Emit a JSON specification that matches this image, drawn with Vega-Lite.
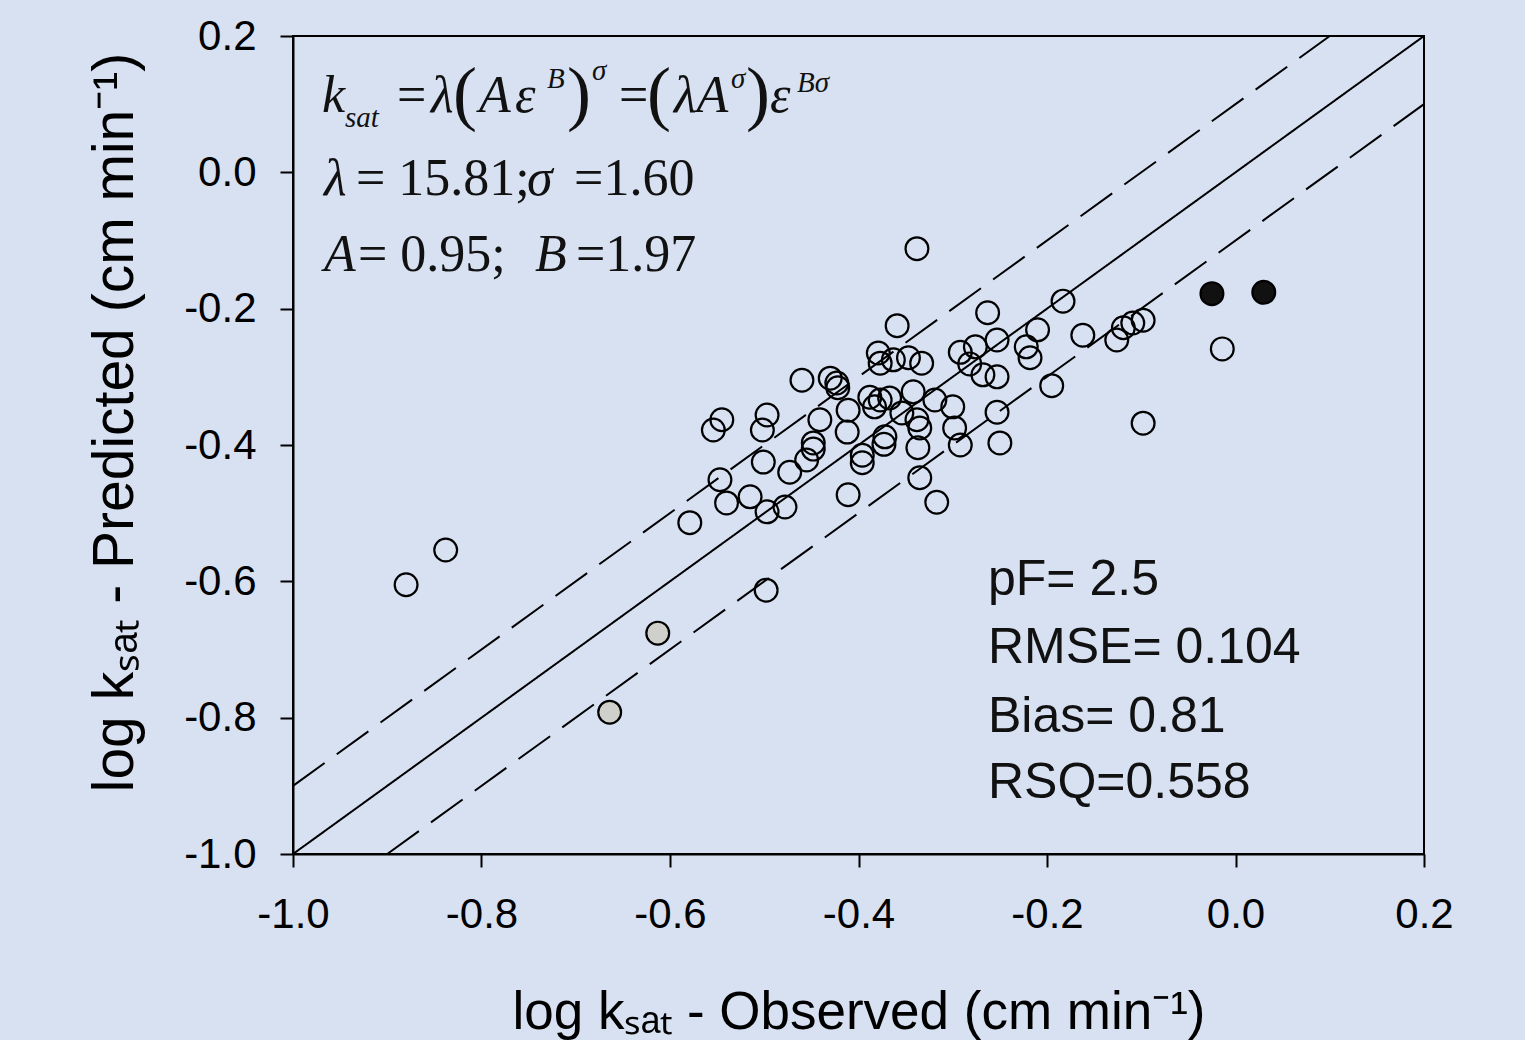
{
  "$schema": "https://vega.github.io/schema/vega-lite/v6.json",
  "width": 1131,
  "height": 818,
  "autosize": {"type": "none"},
  "padding": {"left": 293, "top": 36, "right": 101, "bottom": 186},
  "background": "#d7e1f2",
  "config": {
    "view": {"stroke": "black", "strokeWidth": 2},
    "axis": {
      "grid": false,
      "domainColor": "black",
      "domainWidth": 2,
      "tickColor": "black",
      "tickWidth": 2,
      "tickSize": 13,
      "labelFont": "Liberation Sans",
      "labelFontSize": 42,
      "labelColor": "black",
      "labelFlush": false,
      "labelOverlap": false,
      "labelBound": false,
      "titleFont": "Liberation Sans",
      "titleFontWeight": "normal",
      "titleColor": "black"
    }
  },
  "datasets": {
    "lines": [
      {"line": "solid", "x": -1, "y": -1},
      {"line": "solid", "x": 0.2, "y": 0.2},
      {"line": "upper", "x": -1, "y": -0.9},
      {"line": "upper", "x": 0.1, "y": 0.2},
      {"line": "lower", "x": -0.9, "y": -1},
      {"line": "lower", "x": 0.2, "y": 0.1}
    ],
    "points": [
      {"x": -0.338, "y": -0.112, "type": "open"},
      {"x": -0.183, "y": -0.189, "type": "open"},
      {"x": -0.263, "y": -0.206, "type": "open"},
      {"x": -0.210, "y": -0.231, "type": "open"},
      {"x": -0.253, "y": -0.246, "type": "open"},
      {"x": -0.222, "y": -0.256, "type": "open"},
      {"x": -0.218, "y": -0.272, "type": "open"},
      {"x": -0.162, "y": -0.239, "type": "open"},
      {"x": -0.126, "y": -0.246, "type": "open"},
      {"x": -0.119, "y": -0.228, "type": "open"},
      {"x": -0.109, "y": -0.221, "type": "open"},
      {"x": -0.098, "y": -0.217, "type": "open"},
      {"x": -0.014, "y": -0.259, "type": "open"},
      {"x": -0.098, "y": -0.368, "type": "open"},
      {"x": -0.195, "y": -0.313, "type": "open"},
      {"x": -0.359, "y": -0.225, "type": "open"},
      {"x": -0.379, "y": -0.265, "type": "open"},
      {"x": -0.377, "y": -0.280, "type": "open"},
      {"x": -0.363, "y": -0.275, "type": "open"},
      {"x": -0.347, "y": -0.272, "type": "open"},
      {"x": -0.333, "y": -0.280, "type": "open"},
      {"x": -0.292, "y": -0.264, "type": "open"},
      {"x": -0.276, "y": -0.256, "type": "open"},
      {"x": -0.282, "y": -0.281, "type": "open"},
      {"x": -0.268, "y": -0.297, "type": "open"},
      {"x": -0.253, "y": -0.300, "type": "open"},
      {"x": -0.253, "y": -0.352, "type": "open"},
      {"x": -0.250, "y": -0.397, "type": "open"},
      {"x": -0.300, "y": -0.344, "type": "open"},
      {"x": -0.298, "y": -0.375, "type": "open"},
      {"x": -0.292, "y": -0.400, "type": "open"},
      {"x": -0.460, "y": -0.305, "type": "open"},
      {"x": -0.430, "y": -0.302, "type": "open"},
      {"x": -0.423, "y": -0.309, "type": "open"},
      {"x": -0.422, "y": -0.316, "type": "open"},
      {"x": -0.411, "y": -0.349, "type": "open"},
      {"x": -0.388, "y": -0.330, "type": "open"},
      {"x": -0.377, "y": -0.334, "type": "open"},
      {"x": -0.367, "y": -0.331, "type": "open"},
      {"x": -0.383, "y": -0.344, "type": "open"},
      {"x": -0.342, "y": -0.322, "type": "open"},
      {"x": -0.319, "y": -0.334, "type": "open"},
      {"x": -0.354, "y": -0.353, "type": "open"},
      {"x": -0.338, "y": -0.363, "type": "open"},
      {"x": -0.335, "y": -0.375, "type": "open"},
      {"x": -0.372, "y": -0.388, "type": "open"},
      {"x": -0.373, "y": -0.399, "type": "open"},
      {"x": -0.337, "y": -0.404, "type": "open"},
      {"x": -0.335, "y": -0.448, "type": "open"},
      {"x": -0.317, "y": -0.484, "type": "open"},
      {"x": -0.411, "y": -0.473, "type": "open"},
      {"x": -0.412, "y": -0.381, "type": "open"},
      {"x": -0.396, "y": -0.415, "type": "open"},
      {"x": -0.396, "y": -0.426, "type": "open"},
      {"x": -0.545, "y": -0.363, "type": "open"},
      {"x": -0.554, "y": -0.378, "type": "open"},
      {"x": -0.497, "y": -0.356, "type": "open"},
      {"x": -0.502, "y": -0.378, "type": "open"},
      {"x": -0.441, "y": -0.363, "type": "open"},
      {"x": -0.448, "y": -0.397, "type": "open"},
      {"x": -0.448, "y": -0.406, "type": "open"},
      {"x": -0.455, "y": -0.422, "type": "open"},
      {"x": -0.473, "y": -0.440, "type": "open"},
      {"x": -0.501, "y": -0.425, "type": "open"},
      {"x": -0.547, "y": -0.451, "type": "open"},
      {"x": -0.540, "y": -0.485, "type": "open"},
      {"x": -0.515, "y": -0.476, "type": "open"},
      {"x": -0.497, "y": -0.498, "type": "open"},
      {"x": -0.478, "y": -0.491, "type": "open"},
      {"x": -0.579, "y": -0.514, "type": "open"},
      {"x": -0.498, "y": -0.613, "type": "open"},
      {"x": -0.838, "y": -0.554, "type": "open"},
      {"x": -0.880, "y": -0.605, "type": "open"},
      {"x": -0.613, "y": -0.676, "type": "gray"},
      {"x": -0.664, "y": -0.792, "type": "gray"},
      {"x": -0.025, "y": -0.178, "type": "black"},
      {"x": 0.030, "y": -0.176, "type": "black"}
    ],
    "eqItalic": [
      {"x": -0.9692, "y": 0.0885, "text": "k"},
      {"x": -0.8536, "y": 0.0885, "text": "λ"},
      {"x": -0.8027, "y": 0.0885, "text": "A"},
      {"x": -0.7645, "y": 0.0885, "text": "ε"},
      {"x": -0.5958, "y": 0.0885, "text": "λA"},
      {"x": -0.4939, "y": 0.0885, "text": "ε"},
      {"x": -0.9671, "y": -0.0332, "text": "λ"},
      {"x": -0.7517, "y": -0.0332, "text": "σ"},
      {"x": -0.9671, "y": -0.1447, "text": "A"},
      {"x": -0.7432, "y": -0.1447, "text": "B"}
    ],
    "eqParen": [
      {"x": -0.8302, "y": 0.0812, "text": "("},
      {"x": -0.7093, "y": 0.0812, "text": ")"},
      {"x": -0.6244, "y": 0.0812, "text": "("},
      {"x": -0.5194, "y": 0.0812, "text": ")"}
    ],
    "eqRoman": [
      {"x": -0.8897, "y": 0.0885, "text": "="},
      {"x": -0.6541, "y": 0.0885, "text": "="},
      {"x": -0.9332, "y": -0.0332, "text": "= 15.81;"},
      {"x": -0.7018, "y": -0.0332, "text": "=1.60"},
      {"x": -0.9310, "y": -0.1447, "text": "= 0.95;"},
      {"x": -0.6997, "y": -0.1447, "text": "=1.97"}
    ],
    "eqSmall": [
      {"x": -0.9448, "y": 0.0665, "text": "sat"},
      {"x": -0.7305, "y": 0.1237, "text": "B"},
      {"x": -0.6828, "y": 0.1355, "text": "σ"},
      {"x": -0.5353, "y": 0.1237, "text": "σ"},
      {"x": -0.4653, "y": 0.1179, "text": "Bσ"}
    ],
    "stats": [
      {"x": -0.2626, "y": -0.620, "text": "pF= 2.5"},
      {"x": -0.2626, "y": -0.7198, "text": "RMSE= 0.104"},
      {"x": -0.2626, "y": -0.821, "text": "Bias= 0.81"},
      {"x": -0.2626, "y": -0.918, "text": "RSQ=0.558"}
    ]
  },
  "layer": [
    {
      "data": {"name": "lines"},
      "mark": {"type": "line", "color": "black", "strokeWidth": 2},
      "encoding": {
        "x": {
          "field": "x", "type": "quantitative",
          "scale": {"domain": [-1, 0.2], "nice": false, "zero": false},
          "axis": {
            "values": [-1, -0.8, -0.6, -0.4, -0.2, 0, 0.2],
            "labelExpr": "replace(format(datum.value, '.1f'), '−', '-')",
            "labelPadding": 27,
            "title": "log kₛₐₜ - Observed (cm min⁻¹)",
            "titleFontSize": 53,
            "titlePadding": 51
          }
        },
        "y": {
          "field": "y", "type": "quantitative",
          "scale": {"domain": [-1, 0.2], "nice": false, "zero": false},
          "axis": {
            "values": [-1, -0.8, -0.6, -0.4, -0.2, 0, 0.2],
            "labelExpr": "replace(format(datum.value, '.1f'), '−', '-')",
            "labelPadding": 24,
            "title": "log kₛₐₜ - Predicted (cm min⁻¹)",
            "titleFontSize": 57,
            "titlePadding": 39,
            "titleY": 386
          }
        },
        "detail": {"field": "line"},
        "strokeDash": {
          "field": "line", "type": "nominal",
          "scale": {"domain": ["solid", "upper", "lower"], "range": [[1, 0], [39, 15], [39, 15]]},
          "legend": null
        }
      }
    },
    {
      "data": {"name": "points"},
      "mark": {"type": "point", "shape": "circle", "filled": true, "stroke": "black", "strokeWidth": 2.2, "size": 520, "opacity": 1},
      "encoding": {
        "x": {"field": "x", "type": "quantitative"},
        "y": {"field": "y", "type": "quantitative"},
        "fill": {
          "field": "type", "type": "nominal",
          "scale": {"domain": ["open", "gray", "black"], "range": ["rgba(0,0,0,0)", "#cfcfcb", "#111111"]},
          "legend": null
        }
      }
    },
    {
      "data": {"name": "eqItalic"},
      "mark": {"type": "text", "font": "Liberation Serif", "fontStyle": "italic", "fontSize": 52, "align": "left", "baseline": "alphabetic", "color": "#111111"},
      "encoding": {
        "x": {"field": "x", "type": "quantitative"},
        "y": {"field": "y", "type": "quantitative"},
        "text": {"field": "text"}
      }
    },
    {
      "data": {"name": "eqParen"},
      "mark": {"type": "text", "font": "Liberation Serif", "fontSize": 72, "align": "left", "baseline": "alphabetic", "color": "#111111"},
      "encoding": {
        "x": {"field": "x", "type": "quantitative"},
        "y": {"field": "y", "type": "quantitative"},
        "text": {"field": "text"}
      }
    },
    {
      "data": {"name": "eqRoman"},
      "mark": {"type": "text", "font": "Liberation Serif", "fontSize": 52, "align": "left", "baseline": "alphabetic", "color": "#111111"},
      "encoding": {
        "x": {"field": "x", "type": "quantitative"},
        "y": {"field": "y", "type": "quantitative"},
        "text": {"field": "text"}
      }
    },
    {
      "data": {"name": "eqSmall"},
      "mark": {"type": "text", "font": "Liberation Serif", "fontStyle": "italic", "fontSize": 29, "align": "left", "baseline": "alphabetic", "color": "#111111"},
      "encoding": {
        "x": {"field": "x", "type": "quantitative"},
        "y": {"field": "y", "type": "quantitative"},
        "text": {"field": "text"}
      }
    },
    {
      "data": {"name": "stats"},
      "mark": {"type": "text", "font": "Liberation Sans", "fontSize": 50, "align": "left", "baseline": "alphabetic", "color": "#111111"},
      "encoding": {
        "x": {"field": "x", "type": "quantitative"},
        "y": {"field": "y", "type": "quantitative"},
        "text": {"field": "text"}
      }
    }
  ]
}
